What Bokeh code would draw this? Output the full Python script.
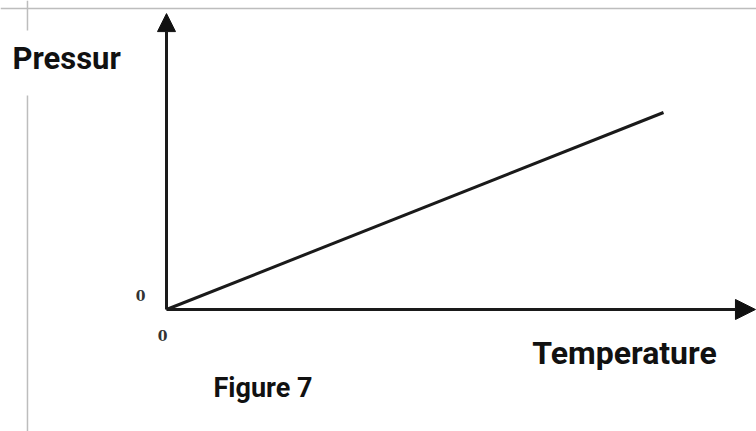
from bokeh.plotting import figure
from bokeh.models import Range1d, Arrow, NormalHead, Span, Label, BoxAnnotation
from bokeh.embed import file_html
from bokeh.resources import INLINE

# data (schematic: pressure proportional to temperature)
temperature = [0, 100]
pressure = [0, 100]
x_axis_end = 118.5
y_axis_end = 150.2
x_label = "Temperature"
y_label = "Pressur"
caption = "Figure 7"
origin_labels = ["0", "0"]

W, H = 756, 431
p = figure(width=W, height=H, output_backend="svg", toolbar_location=None,
           x_range=Range1d(-33.4, 118.71), y_range=Range1d(-61.93, 156.85),
           min_border=0, min_border_left=0, min_border_right=0,
           min_border_top=0, min_border_bottom=0)
p.axis.visible = False
p.grid.visible = False
p.outline_line_color = None
p.background_fill_color = "white"
p.border_fill_color = "white"

# light frame border (top and left)
p.add_layout(Span(location=152.8, dimension="width", line_color="#bdbdbd", line_width=1.5))
p.add_layout(Span(location=-27.97, dimension="height", line_color="#bdbdbd", line_width=1.5))
# white patch where the y label sits over the border
p.add_layout(BoxAnnotation(left=-29.6, right=-26.4, bottom=108.6, top=141.6,
                           fill_color="white", fill_alpha=1, line_color=None))

# axes as arrows
p.add_layout(Arrow(end=NormalHead(size=18, fill_color="#111111", line_color="#111111"),
                   x_start=0, y_start=0, x_end=0, y_end=y_axis_end,
                   line_color="#1a1a1a", line_width=3))
p.add_layout(Arrow(end=NormalHead(size=20, fill_color="#111111", line_color="#111111"),
                   x_start=0, y_start=0, x_end=x_axis_end, y_end=0,
                   line_color="#1a1a1a", line_width=3))

# the data line
p.line(temperature, pressure, line_color="#1a1a1a", line_width=3)

# labels
p.add_layout(Label(x=-31.0, y=127.4, text=y_label, text_font="Roboto",
                   text_font_size="31px", text_font_style="bold", text_color="#111111",
                   text_baseline="alphabetic"))
p.add_layout(Label(x=73.6, y=-22.2, text=x_label, text_font="Roboto",
                   text_font_size="32px", text_font_style="bold", text_color="#111111",
                   text_baseline="alphabetic"))
p.add_layout(Label(x=9.46, y=-39.6, text=caption, text_font="Roboto",
                   text_font_size="27px", text_font_style="bold", text_color="#111111",
                   text_baseline="alphabetic"))
p.add_layout(Label(x=-5.23, y=7.1, text=origin_labels[0], text_font="DejaVu Serif",
                   text_font_size="14px", text_font_style="bold", text_color="#333333",
                   text_align="center", text_baseline="middle"))
p.add_layout(Label(x=-0.8, y=-13.2, text=origin_labels[1], text_font="DejaVu Serif",
                   text_font_size="14px", text_font_style="bold", text_color="#333333",
                   text_align="center", text_baseline="middle"))

open("out.html", "w").write(file_html(p, INLINE))
